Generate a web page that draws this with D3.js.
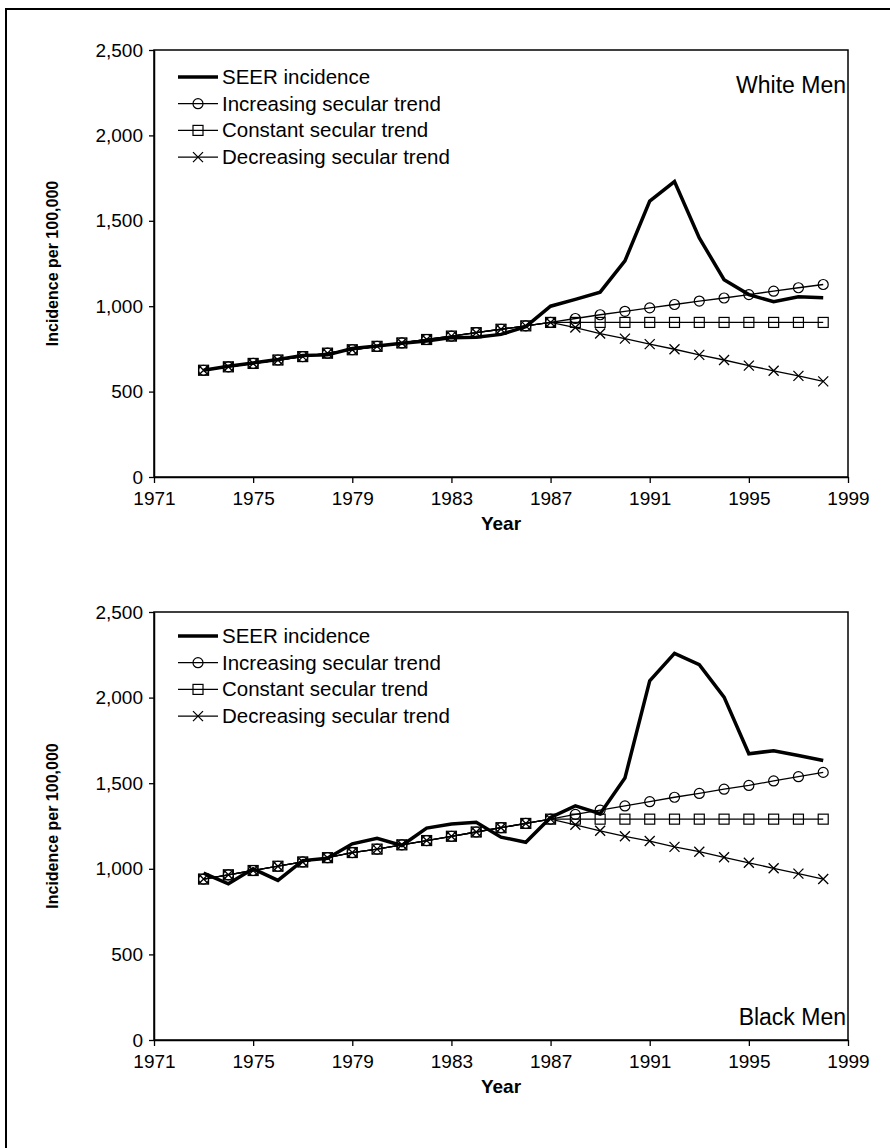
<!DOCTYPE html>
<html>
<head>
<meta charset="utf-8">
<script src="https://cdn.jsdelivr.net/npm/d3@7"></script>
<style>
  body { margin: 0; background: #fff; }
  svg { display: block; font-family: Arial, "Liberation Sans", sans-serif; }
</style>
</head>
<body>
<script>
// data
var years = [1973, 1974, 1975, 1976, 1977, 1978, 1979, 1980, 1981, 1982, 1983, 1984, 1985,
             1986, 1987, 1988, 1989, 1990, 1991, 1992, 1993, 1994, 1995, 1996, 1997, 1998];
var xTicks = [1971, 1975, 1979, 1983, 1987, 1991, 1995, 1999];
var yTicks = [0, 500, 1000, 1500, 2000, 2500];
var seriesNames = ["SEER incidence", "Increasing secular trend", "Constant secular trend", "Decreasing secular trend"];

var whiteSeer = [625, 648, 668, 688, 712, 715, 752, 767, 783, 796, 816, 818, 835, 880, 1000,
                 1040, 1082, 1265, 1615, 1730, 1400, 1155, 1068, 1026, 1055, 1050];
var whiteIncreasing = [625, 645, 665, 685, 705, 725, 745, 765, 785, 805, 825, 845, 865, 885, 905,
                       928, 950, 970, 990, 1010, 1030, 1048, 1068, 1088, 1108, 1127];
var whiteConstant = [625, 645, 665, 685, 705, 725, 745, 765, 785, 805, 825, 845, 865, 885, 905,
                     905, 905, 905, 905, 905, 905, 905, 905, 905, 905, 905];
var whiteDecreasing = [625, 645, 665, 685, 705, 725, 745, 765, 785, 805, 825, 845, 865, 885, 905,
                       875, 840, 810, 778, 748, 715, 685, 652, 622, 592, 560];

var blackSeer = [975, 912, 1000, 932, 1048, 1062, 1146, 1178, 1136, 1238, 1262, 1272, 1185, 1155, 1300,
                 1368, 1322, 1530, 2098, 2258, 2192, 2003, 1672, 1690, 1662, 1633];
var blackIncreasing = [940, 965, 990, 1015, 1040, 1065, 1095, 1115, 1140, 1165, 1190, 1215, 1240, 1265, 1290,
                       1318, 1343, 1367, 1392, 1418, 1440, 1465, 1487, 1513, 1538, 1563];
var blackConstant = [940, 965, 990, 1015, 1040, 1065, 1095, 1115, 1140, 1165, 1190, 1215, 1240, 1265, 1290,
                     1290, 1290, 1290, 1290, 1290, 1290, 1290, 1290, 1290, 1290, 1290];
var blackDecreasing = [940, 965, 990, 1015, 1040, 1065, 1095, 1115, 1140, 1165, 1190, 1215, 1240, 1265, 1290,
                       1257, 1222, 1190, 1162, 1128, 1100, 1067, 1035, 1003, 972, 940];

var W = 890, H = 1148;
var svg = d3.select("body").append("svg").attr("width", W).attr("height", H);

// outer frame (runs off the right/bottom edge like the scan)
svg.append("rect").attr("x", 6).attr("y", 9).attr("width", 920).attr("height", 1200)
  .attr("fill", "none").attr("stroke", "#000").attr("stroke-width", 2);

var x = d3.scaleLinear().domain([1971, 1999]).range([154, 848]);

function marker(g, type, cx, cy) {
  if (type == "circle") {
    g.append("circle").attr("cx", cx).attr("cy", cy).attr("r", 5)
      .attr("fill", "none").attr("stroke", "#000").attr("stroke-width", 1.2);
  } else if (type == "square") {
    g.append("rect").attr("x", cx - 5).attr("y", cy - 5).attr("width", 10).attr("height", 10)
      .attr("fill", "none").attr("stroke", "#000").attr("stroke-width", 1.2);
  } else if (type == "cross") {
    g.append("path").attr("d", "M" + (cx - 5) + "," + (cy - 5) + "L" + (cx + 5) + "," + (cy + 5) +
        "M" + (cx - 5) + "," + (cy + 5) + "L" + (cx + 5) + "," + (cy - 5))
      .attr("fill", "none").attr("stroke", "#000").attr("stroke-width", 1.3);
  }
}

function drawPanel(top, bottom, seer, inc, con, dec, title, titleY, legendY) {
  var y = d3.scaleLinear().domain([0, 2500]).range([bottom, top]);
  var g = svg.append("g");

  // plot box
  g.append("rect").attr("x", x(1971)).attr("y", top)
    .attr("width", x(1999) - x(1971)).attr("height", bottom - top)
    .attr("fill", "none").attr("stroke", "#000").attr("stroke-width", 1.5);

  var ay = g.append("g").attr("transform", "translate(" + x(1971) + ",0)")
    .call(d3.axisLeft(y).tickValues(yTicks).tickFormat(d3.format(",")).tickSize(5).tickSizeOuter(0).tickPadding(6));
  var ax = g.append("g").attr("transform", "translate(0," + bottom + ")")
    .call(d3.axisBottom(x).tickValues(xTicks).tickFormat(d3.format("d")).tickSize(6).tickSizeOuter(0).tickPadding(9));
  [ay, ax].forEach(function (a) {
    a.selectAll("path").attr("stroke", "#000").attr("stroke-width", 1.5);
    a.selectAll("line").attr("stroke", "#000").attr("stroke-width", 1.3);
    a.selectAll("text").attr("fill", "#000").style("font-size", "19px")
      .style("font-family", "Arial, 'Liberation Sans', sans-serif");
  });

  g.append("text").attr("x", (x(1971) + x(1999)) / 2).attr("y", bottom + 53)
    .attr("text-anchor", "middle").style("font-size", "19px").style("font-weight", "bold").text("Year");
  g.append("text").attr("transform", "translate(58," + (top + bottom) / 2 + ") rotate(-90)")
    .attr("text-anchor", "middle").style("font-size", "16px").style("font-weight", "bold")
    .text("Incidence per 100,000");

  var line = d3.line().x(function (d, i) { return x(years[i]); }).y(function (d) { return y(d); });
  var trends = [[inc, "circle"], [con, "square"], [dec, "cross"]];
  trends.forEach(function (t) {
    g.append("path").datum(t[0]).attr("d", line)
      .attr("fill", "none").attr("stroke", "#000").attr("stroke-width", 1.3);
    t[0].forEach(function (v, i) { marker(g, t[1], x(years[i]), y(v)); });
  });
  g.append("path").datum(seer).attr("d", line)
    .attr("fill", "none").attr("stroke", "#000").attr("stroke-width", 3.5).attr("stroke-linejoin", "miter");

  // legend
  var types = [null, "circle", "square", "cross"];
  seriesNames.forEach(function (name, i) {
    var ly = legendY + i * 26.7;
    g.append("line").attr("x1", 178).attr("x2", 218).attr("y1", ly).attr("y2", ly)
      .attr("stroke", "#000").attr("stroke-width", i == 0 ? 3.5 : 1.3);
    if (types[i]) marker(g, types[i], 198, ly);
    g.append("text").attr("x", 222).attr("y", ly + 7).style("font-size", "20.5px").text(name);
  });

  g.append("text").attr("x", 848 - 2).attr("y", titleY).attr("text-anchor", "end")
    .style("font-size", "23px").text(title);
}

drawPanel(50, 477, whiteSeer, whiteIncreasing, whiteConstant, whiteDecreasing, "White Men", 93, 77);
drawPanel(612, 1040, blackSeer, blackIncreasing, blackConstant, blackDecreasing, "Black Men", 1025, 636);
</script>
</body>
</html>
